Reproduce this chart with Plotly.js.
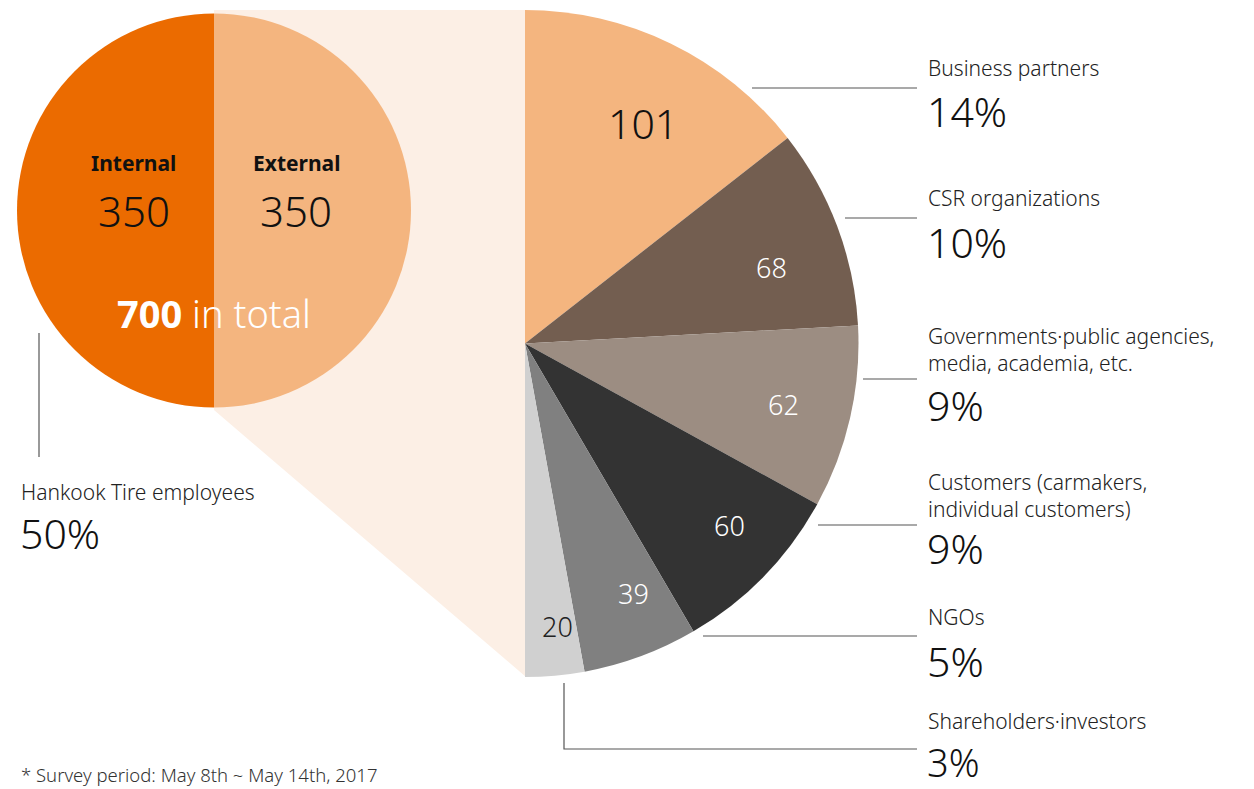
<!DOCTYPE html>
<html>
<head>
<meta charset="utf-8">
<script src="https://cdn.plot.ly/plotly-3.0.1.min.js"></script>
<style>html,body{margin:0;padding:0;background:#fff;}#chart{width:1254px;height:789px;}</style>
</head>
<body>
<div id="chart"></div>
<script>
// ---- data ----
const groups = ['Internal', 'External'];
const groupValues = [350, 350];
const totalLabel = 'in total';
const employeesLabel = 'Hankook Tire employees';
const employeesShare = '50%';
const extCategories = [
  'Business partners',
  'CSR organizations',
  'Governments·public agencies,<br>media, academia, etc.',
  'Customers (carmakers,<br>individual customers)',
  'NGOs',
  'Shareholders·investors'
];
const extValues = [101, 68, 62, 60, 39, 20];
const extShares = ['14%', '10%', '9%', '9%', '5%', '3%'];
const footnote = '* Survey period: May 8th ~ May 14th, 2017';

// ---- styles ----
const groupColors = ['#EB6B00', '#F4B57F'];
const extColors = ['#F4B57F', '#735E50', '#9C8D82', '#333333', '#808080', '#D0D0D0'];
const valueFontColors = ['#111111', '#ffffff', '#ffffff', '#ffffff', '#ffffff', '#222222'];
const FONT = 'Noto Sans, sans-serif';
const W = 1254, H = 789;
const fx = p => p / W;
const fy = p => 1 - p / H;

const total = groupValues.reduce((a, b) => a + b, 0);
const internalSum = groupValues[0];

// small pie: center (214,210.5) r 197
const sc = {x: 214, y: 210.5, r: 197};
// big half pie: center (525,343.5) r 333.5
const bc = {x: 525, y: 343.5, r: 333.5};

const traces = [
  {
    type: 'pie',
    labels: groups,
    values: groupValues,
    marker: {colors: groupColors, line: {width: 0}},
    sort: false,
    direction: 'clockwise',
    rotation: 180,
    textinfo: 'none',
    hoverinfo: 'none',
    showlegend: false,
    domain: {x: [fx(sc.x - sc.r), fx(sc.x + sc.r)], y: [fy(sc.y + sc.r), fy(sc.y - sc.r)]}
  },
  {
    type: 'pie',
    labels: extCategories.concat(['hidden']),
    values: extValues.concat([internalSum]),
    marker: {colors: extColors.concat(['rgba(0,0,0,0)']), line: {width: 0}},
    sort: false,
    direction: 'clockwise',
    rotation: 0,
    textinfo: 'none',
    hoverinfo: 'none',
    showlegend: false,
    domain: {x: [fx(bc.x - bc.r), fx(bc.x + bc.r)], y: [fy(bc.y + bc.r), fy(bc.y - bc.r)]}
  }
];

const ann = [];
function addText(text, x, y, size, color, opts, weight) {
  ann.push(Object.assign({
    text: text, x: fx(x), y: fy(y), xref: 'paper', yref: 'paper',
    xanchor: 'left', yanchor: 'middle', showarrow: false, align: 'left',
    font: {family: FONT, size: size, color: color, weight: weight || 400}
  }, opts || {}));
}

// small circle labels
const groupLabelPos = [[133, 163], [296, 163]];
const groupValuePos = [[134, 210], [296, 210]];
groups.forEach((g, i) => {
  addText('<b>' + g + '</b>', groupLabelPos[i][0], groupLabelPos[i][1], 21, '#111', {xanchor: 'center'});
  addText(String(groupValues[i]), groupValuePos[i][0], groupValuePos[i][1], 42, '#111', {xanchor: 'center'}, 300);
});
addText('<b>' + total + '</b> ' + totalLabel, 214, 313, 38, '#ffffff', {xanchor: 'center'}, 300);

// slice value labels
const valuePos = [[643, 123], [771, 268], [783, 405], [729, 525], [633, 593], [557, 626]];
const valueSizes = [41, 27, 27, 27, 27, 27];
extValues.forEach((v, i) => {
  addText(String(v), valuePos[i][0], valuePos[i][1], valueSizes[i], valueFontColors[i], {xanchor: 'center'}, 300);
});

// right side category labels
const catY = [68, 198, 349, 495, 617, 721];
const shareY = [111, 242, 405, 548, 661, 762];
const shareSizes = [41, 41, 41, 41, 41, 38];
extCategories.forEach((c, i) => {
  addText(c, 926, catY[i], 21, '#222', {}, 300);
  addText(extShares[i], 925, shareY[i], shareSizes[i], '#111', {}, 300);
});

addText(employeesLabel, 19, 492, 21, '#222', {}, 300);
addText(employeesShare, 18, 533, 41, '#111', {}, 300);
addText(footnote, 19, 774, 18.5, '#333', {}, 300);

// shapes
const LINE = {color: '#555555', width: 1.2};
const shapes = [
  {
    type: 'path', xref: 'paper', yref: 'paper', layer: 'below',
    path: `M ${fx(sc.x)} ${fy(10)} L ${fx(bc.x + 1)} ${fy(10)} L ${fx(bc.x + 1)} ${fy(677)} L ${fx(sc.x)} ${fy(410)} Z`,
    fillcolor: '#FCEFE5', line: {width: 0}
  }
];
const leaders = [[752, 88], [845, 218], [863, 379], [818, 525], [703, 636]];
leaders.forEach(l => {
  shapes.push({type: 'line', xref: 'paper', yref: 'paper', x0: fx(l[0]), x1: fx(917), y0: fy(l[1]), y1: fy(l[1]), line: LINE});
});
shapes.push({type: 'path', xref: 'paper', yref: 'paper',
  path: `M ${fx(564)} ${fy(683)} L ${fx(564)} ${fy(749)} L ${fx(917)} ${fy(749)}`, line: LINE});
shapes.push({type: 'line', xref: 'paper', yref: 'paper', x0: fx(39), x1: fx(39), y0: fy(333), y1: fy(457), line: LINE});

const layout = {
  width: W, height: H,
  margin: {l: 0, r: 0, t: 0, b: 0},
  paper_bgcolor: '#ffffff',
  plot_bgcolor: '#ffffff',
  showlegend: false,
  annotations: ann,
  shapes: shapes,
  font: {family: FONT}
};

Plotly.newPlot('chart', traces, layout, {displayModeBar: false, staticPlot: true});
</script>
</body>
</html>
